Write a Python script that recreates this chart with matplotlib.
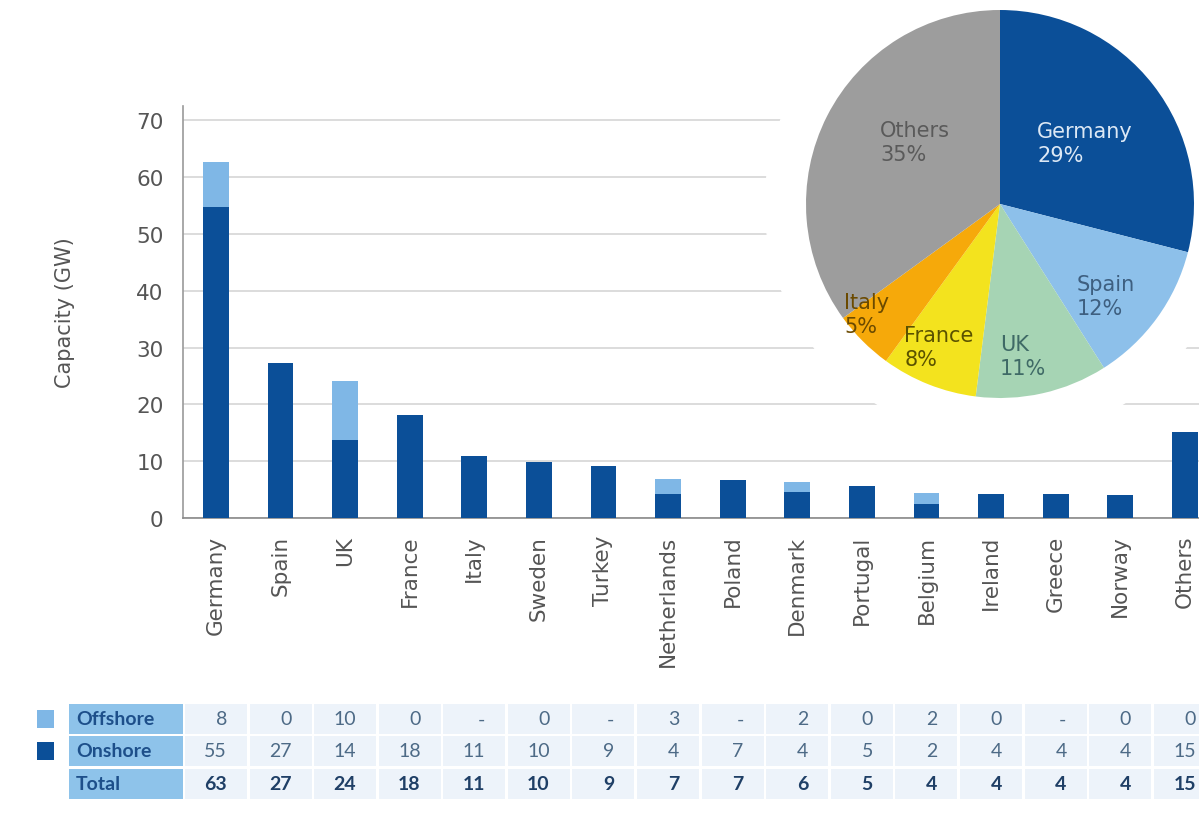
import numpy as np
import matplotlib
matplotlib.use("Agg")
import matplotlib.pyplot as plt
from matplotlib.patches import Rectangle, Circle
import matplotlib.transforms as mtransforms

plt.rcParams['font.family'] = ['DejaVu Sans']
TABLE_FONT = ['Lato', 'DejaVu Sans']

# dados
countries = ["Germany", "Spain", "UK", "France", "Italy", "Sweden", "Turkey", "Netherlands",
             "Poland", "Denmark", "Portugal", "Belgium", "Ireland", "Greece", "Norway", "Others"]
onshore = [54.8, 27.3, 13.7, 18.2, 10.9, 9.8, 9.2, 4.3, 6.6, 4.6, 5.7, 2.4, 4.3, 4.2, 4.0, 15.2]
offshore = [7.9, 0, 10.4, 0, 0, 0, 0, 2.6, 0, 1.7, 0, 2.0, 0, 0, 0, 0]

table_offshore = ["8", "0", "10", "0", "-", "0", "-", "3", "-", "2", "0", "2", "0", "-", "0", "0"]
table_onshore = ["55", "27", "14", "18", "11", "10", "9", "4", "7", "4", "5", "2", "4", "4", "4", "15"]
table_total = ["63", "27", "24", "18", "11", "10", "9", "7", "7", "6", "5", "4", "4", "4", "4", "15"]

pie_labels = ["Germany", "Spain", "UK", "France", "Italy", "Others"]
pie_shares = [29, 12, 11, 8, 5, 35]

ONSHORE_COLOR = "#0b4f98"
OFFSHORE_COLOR = "#7fb7e6"
pie_colors = ["#0b4f98", "#8dc0ea", "#a6d4b4", "#f3e31e", "#f6a90a", "#9d9d9d"]
pie_text_colors = ["#dce8f5", "#3e5f80", "#3f6a66", "#5a5200", "#6b4a00", "#5a5a5a"]
# posição dos rótulos da pizza (raio, ajuste de ângulo)
label_r = [0.54, 0.72, 0.79, 0.80, 0.89, 0.54]
label_da = [-2, -5, -4, -1.5, -5.5, -9]

W, H = 1199, 829
fig = plt.figure(figsize=(W / 100, H / 100), dpi=100)

# gráfico de barras
ax = fig.add_axes([183 / W, 1 - 519 / H, (1199 - 183) / W, (519 - 107) / H])
x = np.arange(len(countries))
ax.bar(x, onshore, width=0.4, color=ONSHORE_COLOR, zorder=3)
ax.bar(x, offshore, width=0.4, bottom=onshore, color=OFFSHORE_COLOR, zorder=3)
ax.set_xlim(-0.51, 15.22)
ax.set_ylim(0, 72.5)
ax.set_yticks(range(0, 71, 10))
ax.yaxis.grid(True, color="#d2d2d2", linewidth=1.1, zorder=0)
ax.set_axisbelow(True)
ax.set_xticks(x)
ax.set_xticklabels(countries, rotation=90, fontsize=15.5, color="#555555")
ax.tick_params(axis="y", labelsize=15.5, labelcolor="#555555", length=0, pad=14)
ax.tick_params(axis="x", length=0, pad=12)
for side in ["top", "right"]:
    ax.spines[side].set_visible(False)
ax.spines["left"].set_color("#9a9a9a")
ax.spines["bottom"].set_color("#8a8a8a")
ax.spines["left"].set_linewidth(1.2)
ax.spines["bottom"].set_linewidth(1.2)
ax.set_ylabel("Capacity (GW)", fontsize=15, color="#555555", labelpad=44)

# pizza
pax = fig.add_axes([806 / W, 1 - 399 / H, 388 / W, 388 / H])
pax.set_aspect("equal")
pax.add_patch(Circle((0, 0), 1.21, color="white", zorder=0, clip_on=False))
wedges, _ = pax.pie(pie_shares, colors=pie_colors, startangle=90, counterclock=False,
                    wedgeprops=dict(linewidth=0))
for w, lab, share, r, da, tc in zip(wedges, pie_labels, pie_shares, label_r, label_da, pie_text_colors):
    mid = np.deg2rad((w.theta1 + w.theta2) / 2 + da)
    pax.text(r * np.cos(mid), r * np.sin(mid), f"{lab}\n{share}%", ha="center", va="center",
             multialignment="left", fontsize=15, color=tc, linespacing=1.25, zorder=5)
pax.set_xlim(-1, 1)
pax.set_ylim(-1, 1)
pax.axis("off")

# tabela
blend = mtransforms.blended_transform_factory(ax.transData, fig.transFigure)
row_y = [720, 752, 785]
row_h = 30
row_names = ["Offshore", "Onshore", "Total"]
row_vals = [table_offshore, table_onshore, table_total]
legend_cols = [OFFSHORE_COLOR, ONSHORE_COLOR, None]

for yc, name, vals, lc in zip(row_y, row_names, row_vals, legend_cols):
    yb = 1 - (yc + row_h / 2) / H
    hf = row_h / H
    fig.add_artist(Rectangle((69 / W, yb), (183 - 69) / W, hf, transform=fig.transFigure,
                             facecolor="#8ec3ea", edgecolor="none"))
    fig.text(76 / W, 1 - yc / H, name, fontsize=14, fontweight="bold", color="#1d4f8a",
             ha="left", va="center", family=TABLE_FONT)
    if lc is not None:
        fig.add_artist(Rectangle((37 / W, 1 - (yc + 9) / H), 17 / W, 18 / H,
                                 transform=fig.transFigure, facecolor=lc, edgecolor="none"))
    bold = name == "Total"
    for xi, v in zip(x, vals):
        fig.add_artist(Rectangle((xi - 0.48, yb), 0.96, hf, transform=blend,
                                 facecolor="#edf3fa", edgecolor="none"))
        fig.text(xi + 0.17, 1 - yc / H, v, transform=blend, fontsize=14,
                 fontweight="bold" if bold else "normal", family=TABLE_FONT,
                 color="#1f3f66" if bold else "#4d6a86", ha="right", va="center")

fig.savefig("out.png", dpi=100, facecolor="white")
